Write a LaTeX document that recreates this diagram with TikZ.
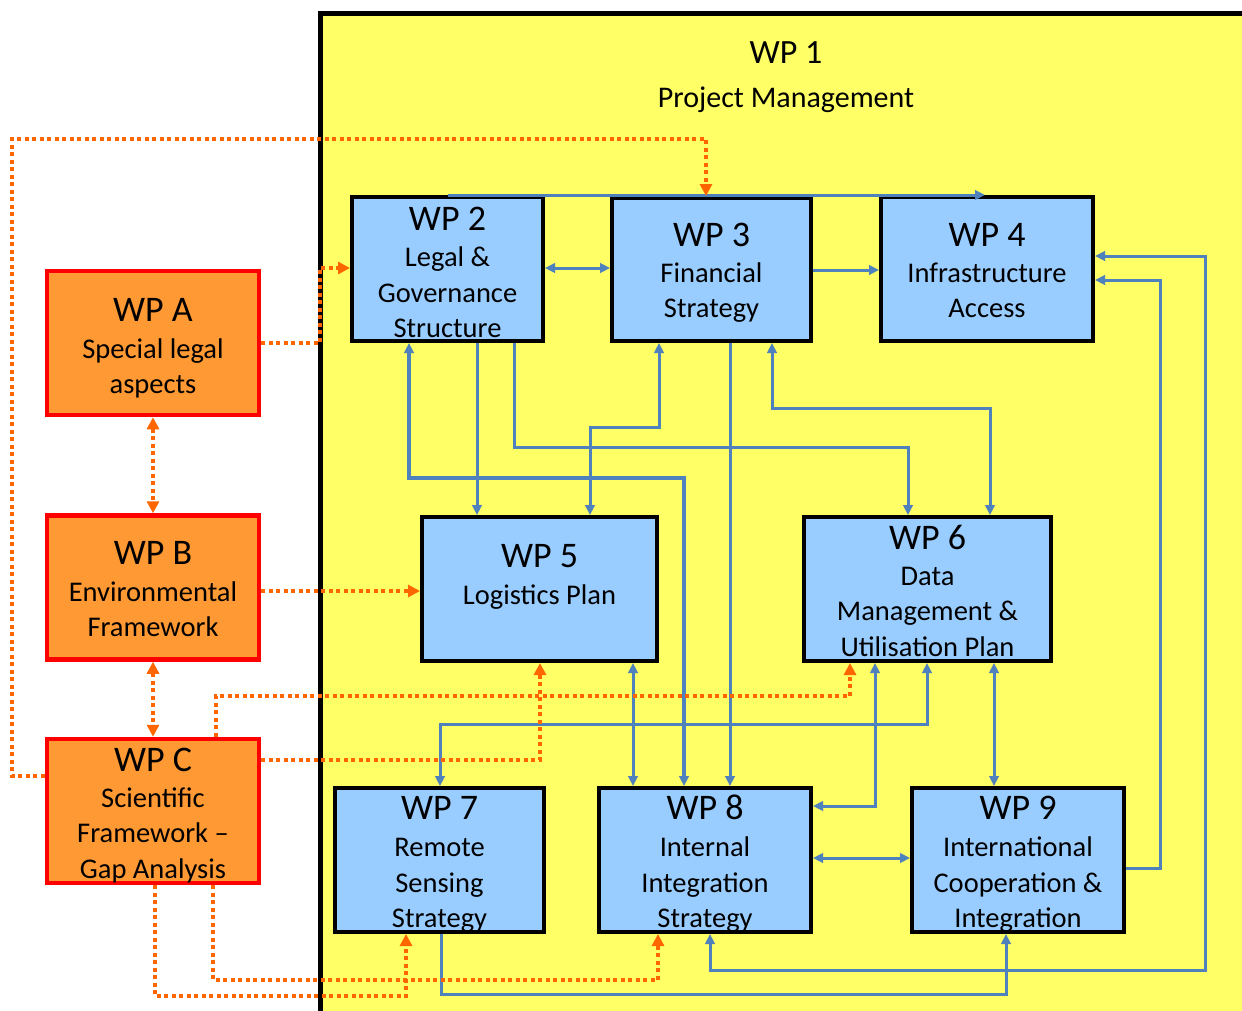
\documentclass[tikz,border=0pt]{standalone}
\usepackage{fontspec}
\setmainfont{Carlito}
\usetikzlibrary{arrows.meta}
\definecolor{wpyellow}{HTML}{FFFF66}
\definecolor{wpblue}{HTML}{99CCFF}
\definecolor{wporange}{HTML}{FF9933}
\definecolor{wpred}{HTML}{FF0000}
\definecolor{lnblue}{HTML}{4F81BD}
\definecolor{lnorange}{HTML}{FF6600}
\tikzset{
  BT/.tip={Triangle[length=10pt,width=9.5pt]},
  OT/.tip={Triangle[length=12pt,width=12pt]},
}
\begin{document}
\begin{tikzpicture}[x=1pt,y=-1pt,
  bbox/.style={draw=black, line width=4pt, fill=wpblue, rectangle, inner sep=0pt},
  obox/.style={draw=wpred, line width=4.5pt, fill=wporange, rectangle, inner sep=0pt},
  ttl/.style={anchor=base, font=\fontsize{36}{40}\selectfont, inner sep=0pt},
  bdy/.style={anchor=base, font=\fontsize{28.5}{32}\selectfont, inner sep=0pt},
  bl/.style={draw=lnblue, line width=3pt},
  blt/.style={draw=lnblue, line width=4pt},
  orl/.style={draw=lnorange, line width=4pt, dash pattern=on 4pt off 3.5pt},
]
\useasboundingbox (0,0) rectangle (1242,1010);
\fill[white] (0,0) rectangle (1242,1010);
\clip (0,0) rectangle (1242,1010);

% WP1 background
\node[draw=black, line width=5pt, fill=wpyellow, rectangle, inner sep=0pt,
      minimum width=940, minimum height=1017] (wp1) at (790.5,521.5) {};
\node[font=\fontsize{34}{38}\selectfont, anchor=base, inner sep=0pt] (t1a) at (786,63) {WP 1};
\node[font=\fontsize{30}{34}\selectfont, anchor=base, inner sep=0pt] (t1b) at (786,107) {Project Management};

% blue boxes
\node[bbox, minimum width=191, minimum height=144] (wp2) at (447.5,269) {};
\node[bbox, minimum width=199, minimum height=143] (wp3) at (711.5,269.5) {};
\node[bbox, minimum width=212, minimum height=144] (wp4) at (987,269) {};
\node[bbox, minimum width=235, minimum height=144] (wp5) at (539.5,589) {};
\node[bbox, minimum width=247, minimum height=144] (wp6) at (927.5,589) {};
\node[bbox, minimum width=209, minimum height=144] (wp7) at (439.5,860) {};
\node[bbox, minimum width=212, minimum height=144] (wp8) at (705,860) {};
\node[bbox, minimum width=212, minimum height=144] (wp9) at (1018,860) {};

% orange boxes
\node[obox, minimum width=212, minimum height=144] (wpa) at (153,343) {};
\node[obox, minimum width=212, minimum height=144] (wpb) at (153,587.5) {};
\node[obox, minimum width=212, minimum height=144] (wpc) at (153,811) {};

% texts
\node[ttl] (t2a) at (447.5,230) {WP 2};
\node[bdy] (t2b) at (447.5,266) {Legal \&};
\node[bdy] (t2c) at (447.5,302) {Governance};
\node[bdy] (t2d) at (447.5,337) {Structure};

\node[ttl] (t3a) at (711.5,246) {WP 3};
\node[bdy] (t3b) at (711.5,282) {Financial};
\node[bdy] (t3c) at (711.5,317) {Strategy};

\node[ttl] (t4a) at (987,246) {WP 4};
\node[bdy] (t4b) at (987,282) {Infrastructure};
\node[bdy] (t4c) at (987,317) {Access};

\node[ttl] (t5a) at (539.5,567) {WP 5};
\node[bdy] (t5b) at (539.5,604) {Logistics Plan};

\node[ttl] (t6a) at (927.5,549) {WP 6};
\node[bdy] (t6b) at (927.5,585) {Data};
\node[bdy] (t6c) at (927.5,620) {Management \&};
\node[bdy] (t6d) at (927.5,656) {Utilisation Plan};

\node[ttl] (t7a) at (439.5,819) {WP 7};
\node[bdy] (t7b) at (439.5,856) {Remote};
\node[bdy] (t7c) at (439.5,892) {Sensing};
\node[bdy] (t7d) at (439.5,927) {Strategy};

\node[ttl] (t8a) at (705,819) {WP 8};
\node[bdy] (t8b) at (705,856) {Internal};
\node[bdy] (t8c) at (705,892) {Integration};
\node[bdy] (t8d) at (705,927) {Strategy};

\node[ttl] (t9a) at (1018,819) {WP 9};
\node[bdy] (t9b) at (1018,856) {International};
\node[bdy] (t9c) at (1018,892) {Cooperation \&};
\node[bdy] (t9d) at (1018,927) {Integration};

\node[ttl] (taa) at (153,321) {WP A};
\node[bdy] (tab) at (153,358) {Special legal};
\node[bdy] (tac) at (153,393) {aspects};

\node[ttl] (tba) at (153,564) {WP B};
\node[bdy] (tbb) at (153,601) {Environmental};
\node[bdy] (tbc) at (153,636) {Framework};

\node[ttl] (tca) at (153,771) {WP C};
\node[bdy] (tcb) at (153,807) {Scientific};
\node[bdy] (tcc) at (153,842) {Framework –};
\node[bdy] (tcd) at (153,878) {Gap Analysis};

% blue connectors
\draw[bl,-BT] (wp2.north -| 448,0) -- (wp4.north -| 985,0);
\draw[bl,BT-BT] (wp2.east |- 0,268) -- (wp3.west |- 0,268);
\draw[bl,-BT] (wp3.east |- 0,270) -- (wp4.west |- 0,270);
\draw[bl,-BT] (wp2.south -| 477,0) -- (wp5.north -| 477,0);
\draw[bl,-BT] (wp2.south -| 514,0) -- (514,447) -- (908,447) -- (wp6.north -| 908,0);
\draw[bl,BT-BT] (wp5.north -| 590,0) -- (590,427) -- (659,427) -- (wp3.south -| 659,0);
\draw[blt,BT-BT] (wp2.south -| 409,0) -- (409,478) -- (684,478) -- (wp8.north -| 684,0);
\draw[bl,-BT] (wp3.south -| 730,0) -- (wp8.north -| 730,0);
\draw[bl,BT-BT] (wp3.south -| 772,0) -- (772,408) -- (990,408) -- (wp6.north -| 990,0);
\draw[bl,BT-BT] (wp5.south -| 633,0) -- (wp8.north -| 633,0);
\draw[bl,BT-BT] (wp6.south -| 875,0) -- (875,806) -- (wp8.east |- 0,806);
\draw[bl,BT-BT] (wp6.south -| 927,0) -- (927,724) -- (440,724) -- (wp7.north -| 440,0);
\draw[bl,BT-BT] (wp6.south -| 994,0) -- (wp9.north -| 994,0);
\draw[bl,BT-BT] (wp8.east |- 0,858) -- (wp9.west |- 0,858);
\draw[bl,-BT] (wp9.east |- 0,868) -- (1160,868) -- (1160,280) -- (wp4.east |- 0,280);
\draw[bl,BT-BT] (wp8.south -| 710,0) -- (710,970) -- (1205,970) -- (1205,256) -- (wp4.east |- 0,256);
\draw[bl,-BT] (wp7.south -| 441,0) -- (441,994) -- (1006,994) -- (wp9.south -| 1006,0);

% orange dotted connectors
\draw[orl,-OT] (wpc.west |- 0,776) -- (12,776) -- (12,139) -- (706,139) -- (wp3.north -| 706,0);
\draw[orl,-OT] (wpa.east |- 0,343) -- (320,343) -- (320,268) -- (wp2.west |- 0,268);
\draw[orl,OT-OT] (wpa.south) -- (wpb.north);
\draw[orl,-OT] (wpb.east |- 0,591) -- (wp5.west |- 0,591);
\draw[orl,OT-OT] (wpb.south) -- (wpc.north);
\draw[orl,-OT] (wpc.north -| 216,0) -- (216,696) -- (850,696) -- (wp6.south -| 850,0);
\draw[orl,-OT] (wpc.east |- 0,760) -- (540,760) -- (wp5.south -| 540,0);
\draw[orl,-OT] (wpc.south -| 155,0) -- (155,996) -- (406,996) -- (wp7.south -| 406,0);
\draw[orl,-OT] (wpc.south -| 213,0) -- (213,980) -- (658,980) -- (wp8.south -| 658,0);
\end{tikzpicture}
\end{document}
